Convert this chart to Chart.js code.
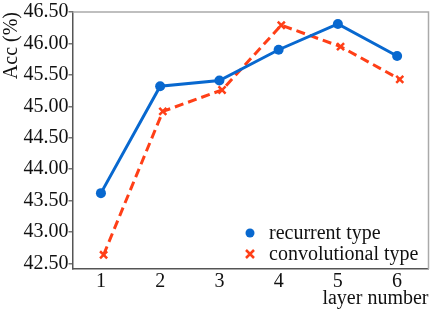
<!DOCTYPE html>
<html>
<head>
<meta charset="utf-8">
<script src="https://cdn.jsdelivr.net/npm/chart.js@4.4.0/dist/chart.umd.min.js"></script>
<style>
  html, body { margin: 0; padding: 0; background: #fff; }
  #grafica { display: block; }
</style>
</head>
<body>
<canvas id="grafica" width="436" height="310"></canvas>
<script>
const capas = [1, 2, 3, 4, 5, 6];
const recurrente = [43.62, 45.32, 45.41, 45.90, 46.31, 45.80];
const convolucional = [42.64, 44.92, 45.26, 46.29, 45.95, 45.43];
const etiquetasY = [42.5, 43.0, 43.5, 44.0, 44.5, 45.0, 45.5, 46.0, 46.5];

const azul = '#0868cf';
const rojo = '#ff3f17';
const fuente = { family: 'Liberation Serif', size: 20 };

// leyenda dentro del area, abajo a la derecha
const leyendaInterna = {
    id: 'leyendaInterna',
    afterDraw(chart) {
        const ctx = chart.ctx;
        const area = chart.chartArea;
        ctx.save();
        // marco superior y derecho
        ctx.strokeStyle = '#aaaaaa';
        ctx.lineWidth = 1.5;
        ctx.beginPath();
        ctx.moveTo(area.left, area.top);
        ctx.lineTo(area.right, area.top);
        ctx.lineTo(area.right, area.bottom);
        ctx.stroke();

        ctx.font = '20px "Liberation Serif"';
        ctx.textBaseline = 'middle';
        chart.data.datasets.forEach((ds, i) => {
            const y = area.bottom - 36 + i * 21;
            const x = 250;
            if (ds.pointStyle === 'circle') {
                ctx.fillStyle = ds.borderColor;
                ctx.beginPath();
                ctx.arc(x, y, 4.5, 0, Math.PI * 2);
                ctx.fill();
            } else {
                ctx.strokeStyle = ds.borderColor;
                ctx.lineWidth = 2.5;
                ctx.beginPath();
                ctx.moveTo(x - 4, y - 4); ctx.lineTo(x + 4, y + 4);
                ctx.moveTo(x - 4, y + 4); ctx.lineTo(x + 4, y - 4);
                ctx.stroke();
            }
            ctx.fillStyle = '#111';
            ctx.fillText(ds.label, x + 19, y + 1);
        });
        ctx.restore();
    }
};

new Chart(document.getElementById('grafica'), {
    type: 'line',
    data: {
        datasets: [{
            label: 'recurrent type',
            data: capas.map((c, i) => ({ x: c, y: recurrente[i] })),
            borderColor: azul,
            backgroundColor: azul,
            borderWidth: 3,
            pointStyle: 'circle',
            pointRadius: 5,
            pointBorderWidth: 0,
            tension: 0
        }, {
            label: 'convolutional type',
            data: capas.map((c, i) => ({ x: c + 0.045, y: convolucional[i] })),
            borderColor: rojo,
            backgroundColor: rojo,
            borderWidth: 3,
            borderDash: [9, 5],
            pointStyle: 'crossRot',
            pointRadius: 5,
            pointBorderWidth: 2.5,
            tension: 0
        }]
    },
    options: {
        responsive: false,
        animation: false,
        layout: { padding: { top: 3, right: 7, left: 0, bottom: 0 } },
        plugins: {
            legend: { display: false },
            tooltip: { enabled: false }
        },
        scales: {
            x: {
                type: 'linear',
                min: 0.52,
                max: 6.53,
                afterBuildTicks: scale => { scale.ticks = capas.map(v => ({ value: v })); },
                afterFit: scale => { scale.height = 41; },
                grid: { display: false, drawTicks: false },
                border: { display: true, color: '#555', width: 1.5 },
                ticks: { color: '#111', font: fuente, padding: 1 },
                title: {
                    display: true,
                    text: 'layer number',
                    align: 'end',
                    color: '#111',
                    font: fuente,
                    padding: { top: 0, bottom: -1 }
                }
            },
            y: {
                min: 42.414,
                max: 46.5,
                afterBuildTicks: scale => { scale.ticks = etiquetasY.map(v => ({ value: v })); },
                afterFit: scale => { scale.width = 72.5; },
                grid: { drawOnChartArea: false, drawTicks: true, tickLength: 4, color: '#777', lineWidth: 1.5 },
                border: { display: true, color: '#555', width: 1.5 },
                ticks: {
                    color: '#111',
                    font: fuente,
                    padding: 0,
                    callback: v => v.toFixed(2)
                },
                title: {
                    display: true,
                    text: 'Acc (%)',
                    align: 'end',
                    color: '#111',
                    font: fuente,
                    padding: { top: 0, bottom: 0 }
                }
            }
        }
    },
    plugins: [leyendaInterna]
});
</script>
</body>
</html>
